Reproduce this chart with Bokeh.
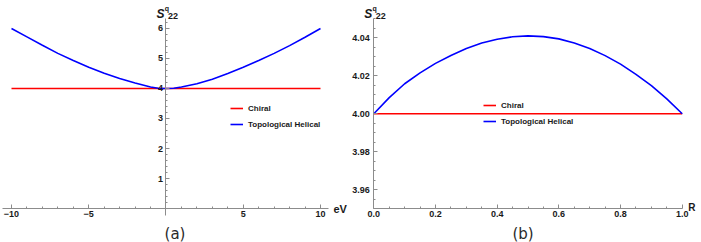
from bokeh.plotting import figure
from bokeh.models import (LinearAxis, FixedTicker, Range1d, Label, Legend,
                          LegendItem, NumeralTickFormatter)
from bokeh.layouts import row
from bokeh.embed import file_html
from bokeh.resources import INLINE

# ---------------- data ----------------
# panel (a): S^q_22 versus energy (eV)
eV = [-10, -9, -8, -7, -6, -5, -4, -3, -2, -1, -0.5, 0, 0.5, 1, 2, 3, 4, 5, 6, 7, 8, 9, 10]
helical_a = [6.0, 5.72, 5.44, 5.17, 4.93, 4.71, 4.51, 4.33, 4.18, 4.05, 4.01, 4.0,
             4.01, 4.05, 4.16, 4.31, 4.50, 4.71, 4.93, 5.17, 5.43, 5.71, 6.0]
eV_chiral = [-10, 10]
chiral_a = [4.0, 4.0]

# panel (b): S^q_22 versus R
R = [0.0, 0.05, 0.1, 0.15, 0.2, 0.25, 0.3, 0.35, 0.4, 0.45, 0.5,
     0.55, 0.6, 0.65, 0.7, 0.75, 0.8, 0.85, 0.9, 0.95, 1.0]
helical_b = [4.0, 4.0085, 4.0158, 4.0215, 4.0265, 4.0307, 4.0343, 4.0372, 4.0392, 4.0405, 4.041,
             4.0406, 4.0394, 4.0372, 4.0343, 4.0306, 4.0261, 4.0207, 4.0148, 4.0078, 4.0]
R_chiral = [0.0, 1.0]
chiral_b = [4.0, 4.0]

ticks_a_x = [-10, -5, 5, 10]
ticks_a_y = [1, 2, 3, 4, 5, 6]
ticks_b_x = [0.0, 0.2, 0.4, 0.6, 0.8, 1.0]
ticks_b_y = [3.96, 3.98, 4.00, 4.02, 4.04]

labels = ["Chiral", "Topological Helical"]
panel_tags = ["(a)", "(b)"]

# ---------------- style ----------------
FONT = "Liberation Sans"
AX = "#8c8c8c"
TXT = "#1a1a1a"
RED = "#ff0000"
BLUE = "#0000ff"


def style_axis(ax, standoff):
    ax.axis_line_color = AX
    ax.major_tick_line_color = AX
    ax.minor_tick_line_color = AX
    ax.major_tick_in = 4
    ax.major_tick_out = 0
    ax.minor_tick_in = 2
    ax.minor_tick_out = 0
    ax.major_label_standoff = standoff
    ax.major_label_text_font = FONT
    ax.major_label_text_font_style = "bold"
    ax.major_label_text_font_size = "9px"
    ax.major_label_text_color = TXT


def make_fig(width, xr, yr):
    p = figure(width=width, height=242, x_range=Range1d(*xr), y_range=Range1d(*yr),
               min_border_left=0, min_border_right=0, min_border_top=0,
               min_border_bottom=0, output_backend="svg", toolbar_location=None,
               x_axis_location=None, y_axis_location=None, title=None,
               outline_line_color=None, background_fill_color="white")
    p.grid.visible = False
    return p


def add_legend(p, r1, r2, loc):
    leg = Legend(items=[LegendItem(label=labels[0], renderers=[r1]),
                        LegendItem(label=labels[1], renderers=[r2])],
                 location=loc, padding=0, margin=0, spacing=4,
                 glyph_width=13, glyph_height=12, label_height=12,
                 label_standoff=5, border_line_alpha=0, background_fill_alpha=0,
                 label_text_font=FONT, label_text_font_style="bold",
                 label_text_font_size="8px", label_text_color=TXT)
    p.add_layout(leg)


def s_label(p, x, y):
    p.add_layout(Label(x=x, y=y, x_offset=-5.5, y_offset=-13.5, text="S", text_align="center",
                       text_baseline="alphabetic", text_font=FONT,
                       text_font_style="bold italic", text_font_size="12px", text_color=TXT))
    p.add_layout(Label(x=x, y=y, x_offset=-1.3, y_offset=-7.5, text="q", text_align="left",
                       text_baseline="alphabetic", text_font=FONT, text_font_style="bold",
                       text_font_size="7px", text_color=TXT))
    p.add_layout(Label(x=x, y=y, x_offset=2, y_offset=-15, text="22", text_align="left",
                       text_baseline="alphabetic", text_font=FONT, text_font_style="bold",
                       text_font_size="9px", text_color=TXT))


# ---------------- panel (a) ----------------
xa = (-10.712, 11.942)
ya = (-1.133, 6.933)
p1 = make_fig(350, xa, ya)
r1 = p1.line(eV_chiral, chiral_a, line_color=RED, line_width=1.6)
r2 = p1.line(eV, helical_a, line_color=BLUE, line_width=1.6)

xax = LinearAxis(fixed_location=0, bounds=(-10.58, 10.52),
                 ticker=FixedTicker(ticks=ticks_a_x,
                                    minor_ticks=[v for v in range(-10, 11) if v % 5 != 0]))
style_axis(xax, 2)
p1.add_layout(xax, "below")
yax = LinearAxis(fixed_location=0, bounds=(-0.23, 6.333),
                 ticker=FixedTicker(ticks=ticks_a_y,
                                    minor_ticks=[round(0.2 * i, 2) for i in range(1, 32) if i % 5 != 0]))
style_axis(yax, 3)
p1.add_layout(yax, "left")
add_legend(p1, r1, r2, (230, 112))
s_label(p1, 0, ya[1])
p1.add_layout(Label(x=10, y=0, x_offset=13, y_offset=0, text="eV", text_baseline="middle",
                    text_font=FONT, text_font_style="bold", text_font_size="11px",
                    text_color=TXT))
p1.add_layout(Label(x=0, y=ya[0], x_offset=9, y_offset=9, text=panel_tags[0],
                    text_align="center", text_baseline="middle", text_font="DejaVu Sans",
                    text_font_size="15px", text_color="#2a2a2a"))

# ---------------- panel (b) ----------------
xb = (-0.0756, 1.0625)
yb = (3.93226, 4.0596)
p2 = make_fig(351, xb, yb)
r3 = p2.line(R_chiral, chiral_b, line_color=RED, line_width=1.6)
r4 = p2.line(R, helical_b, line_color=BLUE, line_width=1.6)

xbx = LinearAxis(fixed_location=3.95, bounds=(0.0, 1.0),
                 ticker=FixedTicker(ticks=ticks_b_x,
                                    minor_ticks=[round(0.05 * i, 3) for i in range(0, 21) if i % 4 != 0]),
                 formatter=NumeralTickFormatter(format="0.0"))
style_axis(xbx, 2)
p2.add_layout(xbx, "below")
ybx = LinearAxis(fixed_location=0, bounds=(3.95, 4.05),
                 ticker=FixedTicker(ticks=ticks_b_y,
                                    minor_ticks=[round(3.95 + 0.005 * i, 4) for i in range(0, 21)
                                                 if i % 4 != 2]),
                 formatter=NumeralTickFormatter(format="0.00"))
style_axis(ybx, 4)
p2.add_layout(ybx, "left")
add_legend(p2, r3, r4, (133, 115))
s_label(p2, 0, yb[1])
p2.add_layout(Label(x=1.0, y=3.95, x_offset=6, y_offset=1, text="R", text_baseline="middle",
                    text_font=FONT, text_font_style="bold", text_font_size="10px",
                    text_color=TXT))
p2.add_layout(Label(x=0.5, y=yb[0], x_offset=-5, y_offset=9, text=panel_tags[1],
                    text_align="center", text_baseline="middle", text_font="DejaVu Sans",
                    text_font_size="15px", text_color="#2a2a2a"))

layout = row(p1, p2)
open("out.html", "w").write(file_html(layout, INLINE))
